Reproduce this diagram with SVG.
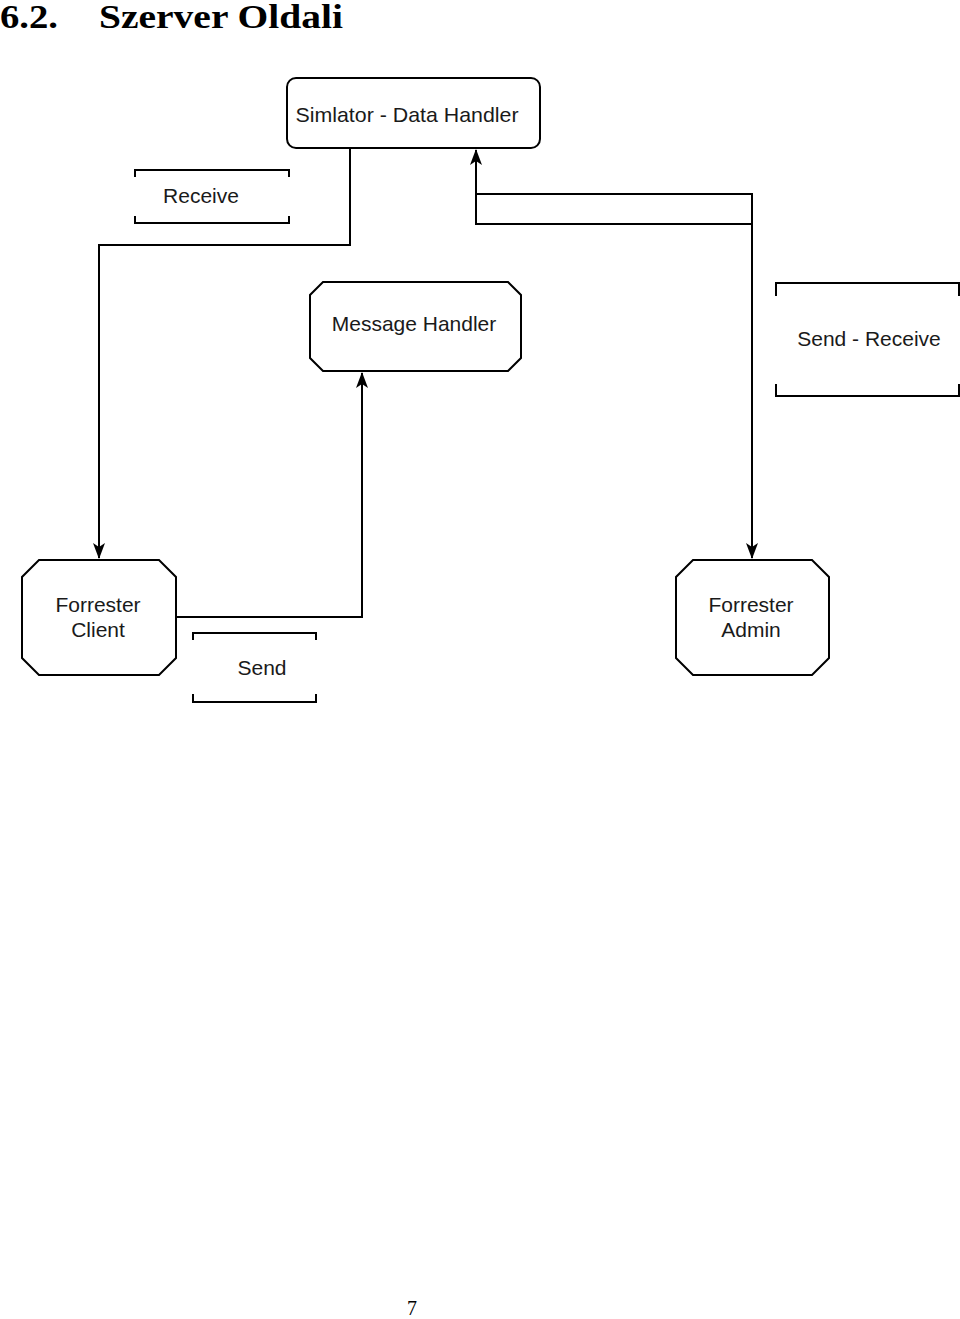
<svg xmlns="http://www.w3.org/2000/svg" width="960" height="1319" viewBox="0 0 960 1319">
<style>
.node{fill:#fff;stroke:#000;stroke-width:2}
.lbl{font-family:"Liberation Sans",Arial,sans-serif;font-size:21px;fill:#1a1a1a;text-anchor:middle}
.br{fill:none;stroke:#000;stroke-width:2}
.edge{fill:none;stroke:#000;stroke-width:2}
.title{font-family:"Liberation Serif","Times New Roman",serif;font-weight:bold;font-size:34px;fill:#000}
</style>
<defs>
<marker id="arr" viewBox="0 0 16 12" refX="15" refY="6" markerWidth="16" markerHeight="12" orient="auto" markerUnits="userSpaceOnUse">
<path d="M0,0 L16,6 L0,12 L4,6 Z" fill="#000"/>
</marker>
</defs>
<rect width="960" height="1319" fill="#fff"/>
<text class="title" x="0" y="28" textLength="58" lengthAdjust="spacingAndGlyphs">6.2.</text>
<text class="title" x="99" y="28" textLength="244" lengthAdjust="spacingAndGlyphs">Szerver Oldali</text>

<g id="connectors">
<path class="edge" d="M350,148 V245 H99 V558" marker-end="url(#arr)"/>
<path class="edge" d="M476,194 H752 V558" marker-end="url(#arr)"/>
<path class="edge" d="M752,224 H476 V150" marker-end="url(#arr)"/>
<path class="edge" d="M176,617 H362 V373" marker-end="url(#arr)"/>
</g>

<g id="simlator">
<rect class="node" x="287" y="78" width="253" height="70" rx="9"/>
<text class="lbl" x="407" y="122" textLength="223" lengthAdjust="spacingAndGlyphs">Simlator - Data Handler</text>
</g>

<g id="receive-label">
<path class="br" d="M135,177 V170 H289 V177 M135,216 V223 H289 V216"/>
<text class="lbl" x="201" y="203">Receive</text>
</g>

<g id="message-handler">
<path class="node" d="M323,282 H508 L521,295 V358 L508,371 H323 L310,358 V295 Z"/>
<text class="lbl" x="414" y="331">Message Handler</text>
</g>

<g id="send-receive-label">
<path class="br" d="M776,296 V283 H959 V296 M776,384 V396 H959 V384"/>
<text class="lbl" x="869" y="346">Send - Receive</text>
</g>

<g id="forrester-client">
<path class="node" d="M39,560 H159 L176,577 V658 L159,675 H39 L22,658 V577 Z"/>
<text class="lbl" x="98" y="612">Forrester</text>
<text class="lbl" x="98" y="637">Client</text>
</g>

<g id="send-label">
<path class="br" d="M193,640 V633 H316 V640 M193,694 V702 H316 V694"/>
<text class="lbl" x="262" y="675">Send</text>
</g>

<g id="forrester-admin">
<path class="node" d="M693,560 H812 L829,577 V658 L812,675 H693 L676,658 V577 Z"/>
<text class="lbl" x="751" y="612">Forrester</text>
<text class="lbl" x="751" y="637">Admin</text>
</g>

<text x="412" y="1315" font-family="Liberation Serif, serif" font-size="20" text-anchor="middle" fill="#000">7</text>
</svg>
